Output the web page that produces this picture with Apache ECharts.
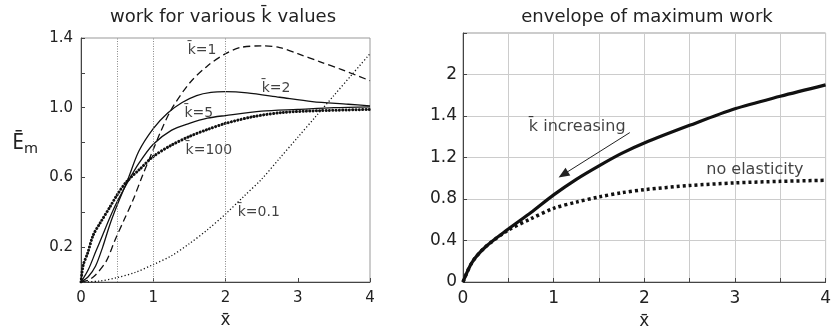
<!DOCTYPE html>
<html><head><meta charset="utf-8">
<script src="https://cdn.jsdelivr.net/npm/echarts@6/dist/echarts.min.js"></script>
<style>html,body{margin:0;padding:0;background:#fff}#c{width:834px;height:335px}</style>
</head><body><div id="c"></div>
<script>
// ---- left panel: work for various k values ----
const k1X   = [0,0.1,0.2,0.35,0.47,0.6,0.72,0.85,1.0,1.1,1.25,1.5,1.75,2.0,2.2,2.5,2.75,3.0,3.3,3.6,4.0];
const k1Y   = [0,0.01,0.04,0.12,0.24,0.36,0.47,0.61,0.76,0.86,0.99,1.14,1.24,1.31,1.345,1.355,1.345,1.31,1.265,1.22,1.155];
const k2X   = [0,0.1,0.2,0.3,0.4,0.5,0.65,0.8,1.0,1.2,1.4,1.6,1.8,2.0,2.3,2.75,3.2,3.7,4.0];
const k2Y   = [0,0.03,0.09,0.2,0.33,0.44,0.59,0.75,0.88,0.97,1.03,1.07,1.088,1.092,1.085,1.06,1.035,1.02,1.01];
const k5X   = [0,0.1,0.2,0.3,0.4,0.5,0.65,0.8,1.0,1.25,1.5,1.75,2.0,2.5,3.0,3.5,4.0];
const k5Y   = [0,0.07,0.17,0.27,0.37,0.46,0.575,0.68,0.79,0.87,0.91,0.94,0.955,0.98,0.99,1.0,1.005];
const k100X = [0,0.03,0.09,0.17,0.26,0.4,0.5,0.63,0.82,1.0,1.25,1.5,1.75,2.0,2.4,2.8,3.3,4.0];
const k100Y = [0,0.096,0.163,0.27,0.335,0.43,0.5,0.575,0.65,0.72,0.785,0.835,0.875,0.91,0.95,0.973,0.983,0.99];
const k01X  = [0,0.25,0.5,0.75,1.0,1.25,1.5,1.75,2.0,2.25,2.5,2.75,3.0,3.25,3.5,3.75,4.0];
const k01Y  = [0,0.005,0.025,0.055,0.1,0.15,0.22,0.3,0.39,0.49,0.59,0.71,0.83,0.95,1.07,1.19,1.31];
const leftGuideX = [0.5,1,2];
const leftYTickValues = [0.2,0.6,1.0,1.4];
const leftYTickLabels = ['0.2','0.6','1.0','1.4'];
const leftXTickLabels = ['0','1','2','3','4'];
const leftLabels = ['k\u0304=1','k\u0304=2','k\u0304=5','k\u0304=100','k\u0304=0.1'];
const leftLabelPos = [[1.675,1.33],[2.70,1.113],[1.63,0.97],[1.77,0.757],[2.46,0.40]];

// ---- right panel: envelope of maximum work ----
const envX = [0,0.1,0.25,0.5,0.75,1.0,1.25,1.5,1.75,2.0,2.5,3.0,3.5,4.0];
const envY = [0,0.19,0.34,0.51,0.67,0.84,0.99,1.12,1.24,1.34,1.51,1.67,1.79,1.90];
const noElX = [0,0.1,0.25,0.5,0.75,1.0,1.25,1.5,1.75,2.0,2.5,3.0,3.5,4.0];
const noElY = [0,0.19,0.34,0.5,0.61,0.71,0.77,0.82,0.86,0.89,0.93,0.955,0.97,0.98];
const rightYTickLabels = ['0','0.4','0.8','1.2','1.4','2',''];
const rightXTickLabels = ['0','1','2','3','4'];
const rightLabels = ['k\u0304 increasing','no elasticity'];
const rightLabelPos = [[1.26,1.50],[3.22,1.084]];
const arrowFrom = [1.84,1.44];
const arrowTo = [1.106,1.036];

const zip = (xs, ys) => xs.map((x, i) => [x, ys[i]]);
const FONT = 'DejaVu Sans';
const MFONT = 'Noto Sans';
const INK = '#111';

const chart = echarts.init(document.getElementById('c'), null, {renderer:'canvas'});
const axisCommon = {
  axisLine:{show:true, onZero:false, lineStyle:{color:'#444', width:1}},
  axisTick:{show:true, inside:true, length:4, lineStyle:{color:'#444'}},
};
chart.setOption({
  animation:false,
  backgroundColor:'#fff',
  title:[
    {text:'work for various k\u0304 values', left:218, top:3, textAlign:'center',
     textStyle:{fontFamily:FONT, fontSize:18, fontWeight:'normal', color:'#222'}},
    {text:'envelope of maximum work', left:642, top:3, textAlign:'center',
     textStyle:{fontFamily:FONT, fontSize:18, fontWeight:'normal', color:'#222'}}
  ],
  grid:[
    {left:81, top:38, width:289, height:244, show:true, borderColor:'#999', borderWidth:1, backgroundColor:'transparent'},
    {left:463, top:33, width:369, height:249, show:true, borderColor:'#999', borderWidth:1, backgroundColor:'transparent'}
  ],
  xAxis:[
    Object.assign({}, axisCommon, {gridIndex:0, type:'value', min:0, max:4, interval:1,
      splitLine:{show:false},
      axisLabel:{fontFamily:FONT, fontSize:15, color:'#222', margin:9,
        formatter:v => leftXTickLabels[Math.round(v)]},
      name:'x\u0304', nameLocation:'middle', nameGap:25,
      nameTextStyle:{fontFamily:MFONT, fontSize:18, color:'#222'}}),
    Object.assign({}, axisCommon, {gridIndex:1, type:'value', min:0, max:4, interval:0.5,
      splitLine:{show:true, lineStyle:{color:'#ccc', width:1}},
      axisLabel:{fontFamily:FONT, fontSize:17, color:'#222', margin:8,
        formatter:v => (Math.abs(v - Math.round(v)) < 1e-6 ? rightXTickLabels[Math.round(v)] : '')},
      name:'x\u0304', nameLocation:'middle', nameGap:26,
      nameTextStyle:{fontFamily:MFONT, fontSize:18, color:'#222'}})
  ],
  yAxis:[
    Object.assign({}, axisCommon, {gridIndex:0, type:'value', min:0, max:1.4, interval:0.2,
      splitLine:{show:false},
      axisLabel:{fontFamily:FONT, fontSize:15, color:'#222', margin:8,
        formatter:v => { const i = leftYTickValues.findIndex(t => Math.abs(t - v) < 1e-6); return i >= 0 ? leftYTickLabels[i] : ''; }},
      name:'{e|E\u0304}{m|m}', nameLocation:'middle', nameRotate:0, nameGap:43,
      nameTextStyle:{padding:[0,0,34,0], rich:{
        e:{fontFamily:MFONT, fontSize:21, color:'#222', lineHeight:26},
        m:{fontFamily:MFONT, fontSize:15, color:'#222', lineHeight:26, padding:[12,0,0,0]}}}}),
    Object.assign({}, axisCommon, {gridIndex:1, type:'value', min:0, max:2.4, interval:0.4,
      splitLine:{show:true, lineStyle:{color:'#ccc', width:1}},
      axisLabel:{fontFamily:FONT, fontSize:17, color:'#222', margin:6,
        formatter:v => rightYTickLabels[Math.round(v / 0.4)]}})
  ],
  series:[
    {type:'line', xAxisIndex:0, yAxisIndex:0, data:zip(k01X,k01Y), smooth:0.3, symbol:'none',
     lineStyle:{color:INK, width:1.3, type:[1.2,2.2]},
     markLine:{silent:true, symbol:'none', label:{show:false},
       lineStyle:{color:'#888', width:1, type:[1,1.5]},
       data:leftGuideX.map(x => ({xAxis:x}))}},
    {type:'line', xAxisIndex:0, yAxisIndex:0, data:zip(k1X,k1Y), smooth:0.3, symbol:'none',
     lineStyle:{color:INK, width:1.3, type:[7,4]}},
    {type:'line', xAxisIndex:0, yAxisIndex:0, data:zip(k2X,k2Y), smooth:0.3, symbol:'none',
     lineStyle:{color:INK, width:1.3}},
    {type:'line', xAxisIndex:0, yAxisIndex:0, data:zip(k5X,k5Y), smooth:0.3, symbol:'none',
     lineStyle:{color:INK, width:1.3}},
    {type:'line', xAxisIndex:0, yAxisIndex:0, data:zip(k100X,k100Y), smooth:0.3, symbol:'none',
     lineStyle:{color:INK, width:3, type:[0.1,3.2], cap:'round'}},
    {type:'scatter', xAxisIndex:0, yAxisIndex:0, symbolSize:0, silent:true,
     data:leftLabels.map((t,i) => ({name:t, value:leftLabelPos[i]})),
     label:{show:true, position:'inside', formatter:p => p.name, fontFamily:FONT, fontSize:14, color:'#111'}},
    {type:'line', xAxisIndex:1, yAxisIndex:1, data:zip(noElX,noElY), smooth:0.3, symbol:'none',
     lineStyle:{color:INK, width:3.5, type:[3,3]}},
    {type:'line', xAxisIndex:1, yAxisIndex:1, data:zip(envX,envY), smooth:0.3, symbol:'none',
     lineStyle:{color:INK, width:3.2},
     markLine:{silent:true, symbol:['none','triangle'], symbolSize:[9,11], label:{show:false},
       lineStyle:{color:'#222', width:1, type:'solid'},
       data:[[{coord:arrowFrom},{coord:arrowTo}]]}},
    {type:'scatter', xAxisIndex:1, yAxisIndex:1, symbolSize:0, silent:true,
     data:rightLabels.map((t,i) => ({name:t, value:rightLabelPos[i]})),
     label:{show:true, position:'inside', formatter:p => p.name, fontFamily:FONT, fontSize:16, color:'#111'}}
  ]
});
</script></body></html>
